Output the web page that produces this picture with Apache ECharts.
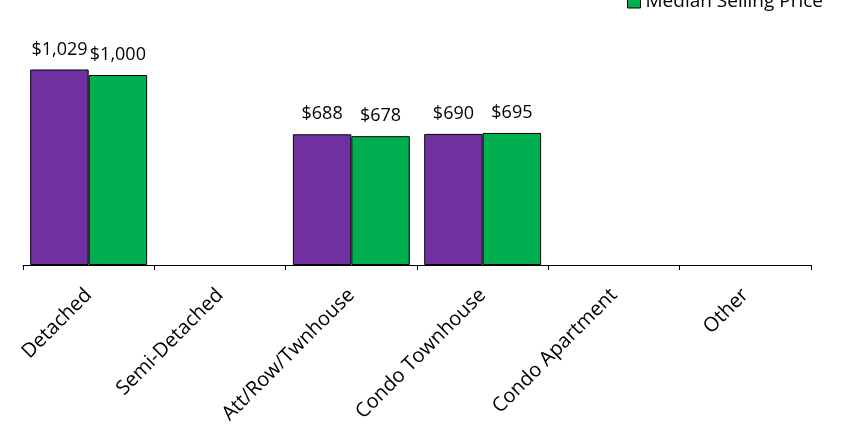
<!DOCTYPE html>
<html>
<head>
<meta charset="utf-8">
<script src="https://cdn.jsdelivr.net/npm/echarts@6/dist/echarts.min.js"></script>
<style>html,body{margin:0;padding:0;background:#fff}#c{width:850px;height:434px}</style>
</head>
<body>
<div id="c"></div>
<script>
const categories = ['Detached', 'Semi-Detached', 'Att/Row/Twnhouse', 'Condo Townhouse', 'Condo Apartment', 'Other'];
const averagePrice = [1029, null, 688, 690, null, null];
const medianPrice = [1000, null, 678, 695, null, null];
const seriesNames = ['Average Selling Price', 'Median Selling Price'];

const chart = echarts.init(document.getElementById('c'), null, {renderer: 'canvas'});
const fmt = p => '$' + Number(p.value).toLocaleString('en-US');
const labelStyle = {
  show: true, position: 'top', distance: 11, color: '#000',
  fontFamily: 'Open Sans', fontSize: 18, formatter: fmt
};
chart.setOption({
  animation: false,
  textStyle: {fontFamily: 'Open Sans'},
  legend: {
    data: [seriesNames[1]],
    left: 627, top: -8, padding: 0,
    itemWidth: 13, itemHeight: 13, itemGap: 5,
    icon: 'rect',
    itemStyle: {borderColor: '#000', borderWidth: 1},
    textStyle: {fontFamily: 'Open Sans', fontSize: 19, color: '#000'}
  },
  grid: {left: 23, right: 39, top: 37, bottom: 169, containLabel: false},
  xAxis: {
    type: 'category',
    data: categories,
    axisLine: {lineStyle: {color: '#000', width: 1}},
    axisTick: {show: true, length: 5, lineStyle: {color: '#000'}},
    axisLabel: {
      rotate: 45, interval: 0, margin: 27, color: '#000',
      fontFamily: 'Open Sans', fontSize: 20, verticalAlign: 'middle', align: 'right'
    }
  },
  yAxis: {type: 'value', min: 0, max: 1200, show: false, splitLine: {show: false}},
  series: [
    {
      name: seriesNames[0], type: 'bar', data: averagePrice,
      barGap: '0%', barCategoryGap: '11%',
      itemStyle: {color: '#7030A0', borderColor: '#000', borderWidth: 1},
      label: labelStyle
    },
    {
      name: seriesNames[1], type: 'bar', data: medianPrice,
      barGap: '0%', barCategoryGap: '11%',
      itemStyle: {color: '#00B050', borderColor: '#000', borderWidth: 1},
      label: labelStyle
    }
  ]
});
</script>
</body>
</html>
